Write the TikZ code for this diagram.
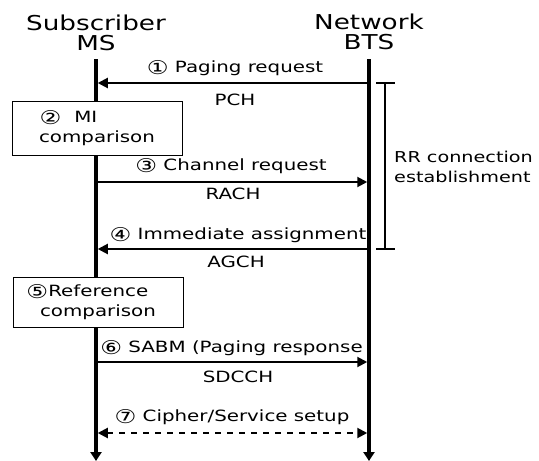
\documentclass[tikz,border=0pt]{standalone}
\usepackage{fontspec}
\setmainfont{DejaVu Sans}[FakeStretch=1.28]
\usetikzlibrary{arrows.meta}
\newcommand{\circnum}[1]{\raisebox{-1.2pt}{\fontsize{19}{19}\selectfont #1}}
\begin{document}
\begin{tikzpicture}[x=1pt,y=-1pt,
  title/.style={font=\fontsize{20.5}{20}\selectfont, align=center, inner sep=0pt},
  lbl/.style={font=\fontsize{15.5}{16}\selectfont, inner sep=0pt},
  lifeline/.style={line width=3.5pt, -{Triangle[length=9pt,width=11pt]}},
  msg/.style={line width=2pt, -{Triangle[length=10pt,width=10pt]}},
  dmsg/.style={line width=2pt, dash pattern=on 6pt off 6pt, {Triangle[length=10pt,width=10pt]}-{Triangle[length=10pt,width=10pt]}},
  procbox/.style={draw, line width=1pt, fill=white, align=center, font=\fontsize{15.5}{20}\selectfont, inner sep=0pt},
  brk/.style={line width=2pt}]
\useasboundingbox (0,0) rectangle (539,461);
% titles
\node[title] (ms) at (96,33) {Subscriber\\MS};
\node[title] (bts) at (369,32) {Network\\BTS};
% lifelines
\coordinate (mstop) at (96,59);
\coordinate (msbot) at (96,461);
\coordinate (btstop) at (369,59);
\coordinate (btsbot) at (369,461);
\draw[lifeline] (mstop) -- (msbot);
\draw[lifeline] (btstop) -- (btsbot);
% message endpoints
\foreach \n/\y in {1/83,3/182,4/249,6/362,7/433}{
  \coordinate (m\n) at (97.75,\y);
  \coordinate (b\n) at (367.25,\y);
}
% 1
\draw[msg] (b1) -- (m1);
\node[lbl] (l1) at (235,68) {\circnum{①} Paging request};
\node[lbl] (c1) at (235,100) {PCH};
% box 2
\node[procbox, minimum width=170pt, minimum height=54pt] (box2) at (97,128) {\makebox[115pt][l]{\circnum{②}\hspace{13pt}MI}\\comparison};
% 3
\draw[msg] (m3) -- (b3);
\node[lbl] (l3) at (231,166) {\circnum{③} Channel request};
\node[lbl] (c3) at (233,194) {RACH};
% 4
\draw[msg] (b4) -- (m4);
\node[lbl] (l4) at (238,235) {\circnum{④} Immediate assignment};
\node[lbl] (c4) at (236,262) {AGCH};
% box 5
\node[procbox, minimum width=170pt, minimum height=50pt] (box5) at (98,302) {\makebox[115pt][l]{\hspace{-14pt}\circnum{⑤}Reference}\\comparison};
% 6
\draw[msg] (m6) -- (b6);
\node[lbl] (l6) at (231.5,348) {\circnum{⑥} SABM (Paging response};
\node[lbl] (c6) at (238,377) {SDCCH};
% 7
\draw[dmsg] (m7) -- (b7);
\node[lbl] (l7) at (232,417) {\circnum{⑦} Cipher/Service setup};
% bracket
\coordinate (brt) at (385,83);
\coordinate (brb) at (385,249);
\coordinate (brtl) at (376,83);
\coordinate (brtr) at (395,83);
\coordinate (brbl) at (376,249);
\coordinate (brbr) at (395,249);
\draw[brk] (brt) -- (brb);
\draw[brk] (brtl) -- (brtr);
\draw[brk] (brbl) -- (brbr);
\node[lbl, anchor=west, align=left, font=\fontsize{15}{20}\selectfont] (rr) at (394,167) {RR connection\\establishment};
\end{tikzpicture}
\end{document}
